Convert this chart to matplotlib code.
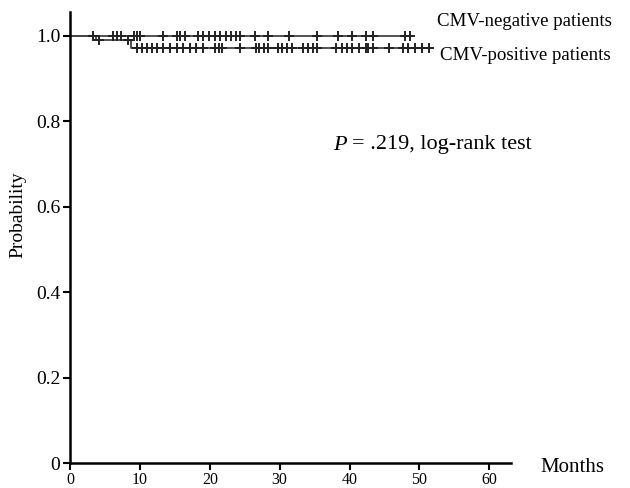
import matplotlib
matplotlib.use("Agg")
import matplotlib.pyplot as plt

# Kaplan-Meier steps (months, survival probability)
neg_times = [0, 48.6]
neg_surv = [1.0, 1.0]
pos_times = [0, 3.7, 8.7, 51.9]
pos_surv = [1.0, 0.990, 0.972, 0.972]

# censored observations, months
neg_censor = [3.3, 6.1, 6.7, 7.3, 9.1, 9.6, 10.0, 13.3, 15.3, 15.7, 16.4, 18.3,
              19.1, 19.9, 20.7, 21.4, 22.3, 23.1, 23.7, 24.3, 26.4, 28.3, 31.4,
              35.4, 38.4, 40.3, 42.3, 43.3, 47.9, 48.6]
pos_censor_mid = [4.1, 8.3]
pos_censor = [9.6, 10.3, 11.0, 11.7, 12.4, 13.3, 14.3, 15.3, 16.1, 17.1, 18.1,
              19.0, 20.7, 21.3, 21.7, 24.3, 26.6, 27.1, 27.7, 28.3, 29.7, 30.4,
              31.1, 31.7, 33.3, 34.0, 34.7, 35.4, 38.1, 38.9, 39.6, 40.4, 41.3,
              42.3, 42.7, 43.3, 45.6, 47.6, 48.4, 49.4, 50.4, 51.3]

xticks = [0, 10, 20, 30, 40, 50, 60]
yticks = [0, 0.2, 0.4, 0.6, 0.8, 1.0]
ytick_labels = ["0", "0.2", "0.4", "0.6", "0.8", "1.0"]

plt.rcParams['font.family'] = ['Liberation Serif', 'DejaVu Serif']

fig = plt.figure(figsize=(6.3, 4.88), dpi=100)
ax = fig.add_axes([70 / 630, 25 / 488, 441 / 630, 451 / 488])

line_col = "#444444"
ax.step(neg_times, neg_surv, where="post", color=line_col, lw=1.3)
ax.step(pos_times, pos_surv, where="post", color=line_col, lw=1.3)

# censor marks
mk = dict(ls="none", marker="+", ms=7, mew=1.4, color="#222222")
ax.plot(neg_censor, [1.0] * len(neg_censor), **mk)
ax.plot(pos_censor_mid, [0.990] * len(pos_censor_mid), **mk)
ax.plot(pos_censor, [0.972] * len(pos_censor), **mk)

ax.set_xlim(0, 63.1)
ax.set_ylim(0, 1.056)
ax.set_xticks(xticks)
ax.set_xticklabels([str(t) for t in xticks], fontsize=11.5)
ax.set_yticks(yticks)
ax.set_yticklabels(ytick_labels, fontsize=14)
ax.tick_params(axis="both", direction="out", length=5, width=1.5, color="black")
ax.tick_params(axis="y", pad=2)
ax.tick_params(axis="x", pad=1.5)

for s in ["top", "right"]:
    ax.spines[s].set_visible(False)
for s in ["left", "bottom"]:
    ax.spines[s].set_linewidth(1.8)

fig.text(18 / 630, (488 - 215) / 488, "Probability", fontsize=14, rotation=90,
         ha="center", va="center")
fig.text(540 / 630, (488 - 467) / 488, "Months", fontsize=15, ha="left", va="center")

fig.text(437 / 630, (488 - 22) / 488, "CMV-negative patients", fontsize=13.6, ha="left", va="center")
fig.text(440 / 630, (488 - 56) / 488, "CMV-positive patients", fontsize=13.6, ha="left", va="center")
fig.text(333 / 630, (488 - 145) / 488, "P", fontsize=16, style="italic", ha="left", va="center")
fig.text(352 / 630, (488 - 145) / 488, "= .219, log-rank test", fontsize=16, ha="left", va="center")

fig.savefig("out.png", dpi=100)
